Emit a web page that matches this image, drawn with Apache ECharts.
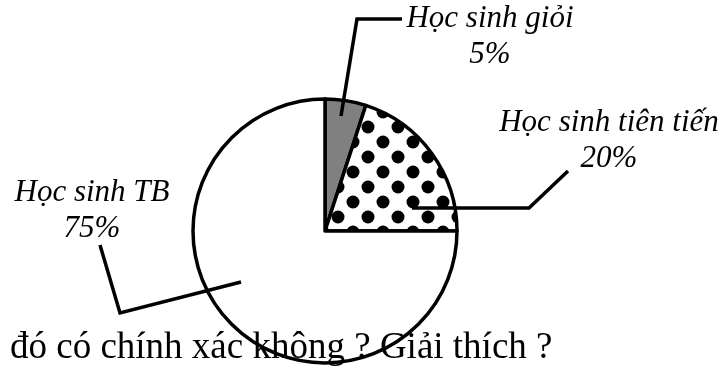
<!DOCTYPE html>
<html>
<head>
<meta charset="utf-8">
<script src="https://cdn.jsdelivr.net/npm/echarts@6/dist/echarts.min.js"></script>
<style>
  html, body { margin: 0; padding: 0; background: #fff; }
  #chart { width: 724px; height: 366px; }
</style>
</head>
<body>
<div id="chart"></div>
<script>
// du lieu bieu do
var categories = ['Học sinh giỏi', 'Học sinh tiên tiến', 'Học sinh TB'];
var percents = [5, 20, 75];
var caption = 'đó có chính xác không ? Giải thích ?';

// vi tri nhan va duong dan (pixel)
var labelPos = [[490, 37], [609, 141], [92, 211]];
var linePoints = [
    [[341, 116], [357, 19], [402, 19]],
    [[412, 208], [529, 208], [568, 171]],
    [[241, 282], [120, 313], [100, 245]]
];

function dotPattern() {
    var c = document.createElement('canvas');
    c.width = 30;
    c.height = 30;
    var ctx = c.getContext('2d');
    ctx.fillStyle = '#fff';
    ctx.fillRect(0, 0, 30, 30);
    ctx.fillStyle = '#000';
    [[8, 7], [23, 22]].forEach(function (p) {
        ctx.beginPath();
        ctx.arc(p[0], p[1], 6.5, 0, Math.PI * 2);
        ctx.fill();
    });
    return c;
}

var fills = ['#808080', { image: dotPattern(), repeat: 'repeat' }, '#ffffff'];

var chart = echarts.init(document.getElementById('chart'), null, { renderer: 'canvas' });

var option = {
    backgroundColor: '#fff',
    animation: false,
    series: [{
        type: 'pie',
        center: [325, 231],
        radius: 132,
        startAngle: 90,
        clockwise: true,
        z: 2,
        itemStyle: {
            borderColor: '#000',
            borderWidth: 3.5
        },
        label: {
            show: true,
            position: 'outside',
            color: '#000',
            fontFamily: 'Liberation Serif',
            fontStyle: 'italic',
            fontSize: 31,
            lineHeight: 36,
            align: 'center',
            formatter: function (p) {
                return p.name + '\n' + p.value + '%';
            }
        },
        labelLine: { show: false },
        labelLayout: function (params) {
            var i = params.dataIndex;
            return {
                x: labelPos[i][0],
                y: labelPos[i][1],
                align: 'center',
                verticalAlign: 'middle'
            };
        },
        emphasis: { disabled: true },
        data: categories.map(function (name, i) {
            return { name: name, value: percents[i], itemStyle: { color: fills[i] } };
        })
    }],
    graphic: linePoints.map(function (pts) {
        return {
            type: 'polyline',
            z: 10,
            shape: { points: pts },
            style: { stroke: '#000', lineWidth: 3.5, fill: null, lineJoin: 'miter' }
        };
    }).concat([{
        type: 'text',
        z: 10,
        style: {
            text: caption,
            x: 10,
            y: 348,
            font: '37px "Liberation Serif"',
            fill: '#000',
            verticalAlign: 'middle'
        }
    }])
};

chart.setOption(option);
</script>
</body>
</html>
